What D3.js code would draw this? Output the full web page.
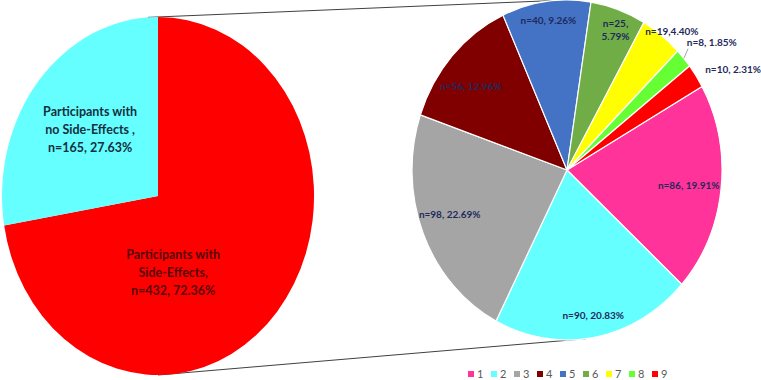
<!DOCTYPE html>
<html>
<head>
<meta charset="utf-8">
<style>
  body { margin: 0; background: #fff; }
  svg { display: block; font-family: Lato, "Open Sans", sans-serif; font-weight: bold; }
</style>
</head>
<body>
<svg id="chart" width="761" height="380"></svg>
<script src="https://cdn.jsdelivr.net/npm/d3@7"></script>
<script>
// main split
const mainNames = ["Participants with Side-Effects", "Participants with no Side-Effects"];
const mainValues = [432, 165];
const mainLabels = [
  ["Participants with", "Side-Effects,", "n=432, 72.36%"],
  ["Participants with", "no Side-Effects ,", "n=165, 27.63%"]
];

// breakdown of participants with side-effects
const subCategories = ["1", "2", "3", "4", "5", "6", "7", "8", "9"];
const subValues = [86, 90, 98, 56, 40, 25, 19, 8, 10];
const subLabels = [
  ["n=86, 19.91%"], ["n=90, 20.83%"], ["n=98, 22.69%"], ["n=56, 12.96%"],
  ["n=40, 9.26%"], ["n=25,", "5.79%"], ["n=19,4.40%"], ["n=8, 1.85%"], ["n=10, 2.31%"]
];

const mainColors = ["#ff0000", "#66ffff"];
const subColors = ["#ff3399", "#66ffff", "#a5a5a5", "#800000", "#4472c4",
                   "#70ad47", "#ffff00", "#66ff33", "#ff0000"];

const svg = d3.select("#chart");
const rad = Math.PI / 180;

// ellipse-shaped pies (stretched like the original)
const left = {cx: 158, cy: 196, rx: 156, ry: 179};
const right = {cx: 567, cy: 170, rx: 155, ry: 170};

function pt(p, angle, r) {
  return [p.cx + p.rx * r * Math.sin(angle), p.cy - p.ry * r * Math.cos(angle)];
}

const arc = d3.arc().innerRadius(0).outerRadius(1);

// connector lines
const lines = [
  [pt(left, -3.7 * rad, 1), pt(right, 0, 1)],
  [pt(left, 180 * rad, 1), pt(right, 173 * rad, 1)]
];
svg.selectAll("line.conn").data(lines).join("line")
  .attr("class", "conn")
  .attr("x1", d => d[0][0]).attr("y1", d => d[0][1])
  .attr("x2", d => d[1][0]).attr("y2", d => d[1][1])
  .attr("stroke", "#404040").attr("stroke-width", 1);

// left pie
const mainPie = d3.pie().sort(null)(mainValues);
const gl = svg.append("g")
  .attr("transform", `translate(${left.cx},${left.cy}) scale(${left.rx},${left.ry})`);
gl.selectAll("path").data(mainPie).join("path")
  .attr("d", arc)
  .attr("fill", (d, i) => mainColors[i]);

const mainLabelPos = [[0.44, 37], [0.57, 0]]; // radius factor, angle shift
const mainTextColors = ["#560808", "#123040"];
mainPie.forEach((d, i) => {
  const a = (d.startAngle + d.endAngle) / 2 + mainLabelPos[i][1] * rad;
  const [x, y] = pt(left, a, mainLabelPos[i][0]);
  const t = svg.append("text")
    .attr("x", x).attr("y", y)
    .attr("text-anchor", "middle")
    .attr("font-size", 12.5)
    .attr("fill", mainTextColors[i]);
  const n = mainLabels[i].length;
  mainLabels[i].forEach((s, j) => {
    t.append("tspan").attr("x", x)
      .attr("y", y + (j - (n - 1) / 2) * 18 + 4)
      .text(s);
  });
});

// right pie
const subPie = d3.pie().sort(null)
  .startAngle(60.6 * rad).endAngle(420.6 * rad)(subValues);
const gr = svg.append("g")
  .attr("transform", `translate(${right.cx},${right.cy}) scale(${right.rx},${right.ry})`);
gr.selectAll("path").data(subPie).join("path")
  .attr("d", arc)
  .attr("fill", (d, i) => subColors[i])
  .attr("stroke", "#fff")
  .attr("stroke-width", 1.2)
  .attr("vector-effect", "non-scaling-stroke");

// label placement: radius factor, angle shift (deg), anchor
const subLabelPos = [
  [0.79, 0, "middle"], [0.87, -1, "middle"], [0.8, 3, "middle"], [0.79, -4, "middle"],
  [0.89, 0, "middle"], [0.88, 1.5, "middle"], [1.06, 2, "middle"], [1.076, -3, "start"],
  [1.07, 0, "start"]
];

// leader line for the small slice 8
const s8 = subPie[7];
const l8a = pt(right, (s8.startAngle + s8.endAngle) / 2, 1.0);
const l8b = pt(right, (s8.startAngle + s8.endAngle) / 2 - 3 * rad, 1.06);
svg.append("line")
  .attr("x1", l8a[0]).attr("y1", l8a[1])
  .attr("x2", l8b[0] + 3).attr("y2", l8b[1] + 4)
  .attr("stroke", "#a6a6a6").attr("stroke-width", 1);

subPie.forEach((d, i) => {
  const [r, shift, anchor] = subLabelPos[i];
  const a = (d.startAngle + d.endAngle) / 2 + shift * rad;
  const [x, y] = pt(right, a, r);
  const t = svg.append("text")
    .attr("x", x).attr("y", y)
    .attr("text-anchor", anchor)
    .attr("font-size", 10)
    .attr("fill", "#1f2a5c");
  const n = subLabels[i].length;
  subLabels[i].forEach((s, j) => {
    t.append("tspan").attr("x", x)
      .attr("y", y + (j - (n - 1) / 2) * 13 + 3.5)
      .text(s);
  });
});

// legend
const legendX = d3.scaleBand().domain(subCategories).range([468, 675]);
const lg = svg.append("g").attr("transform", "translate(0,374)");
const items = lg.selectAll("g").data(subCategories).join("g")
  .attr("transform", d => `translate(${legendX(d)},0)`);
items.append("rect")
  .attr("x", 0).attr("y", -3).attr("width", 6).attr("height", 6)
  .attr("fill", (d, i) => subColors[i]);
items.append("text")
  .attr("x", 9).attr("y", 4)
  .attr("font-size", 11).attr("font-weight", "normal")
  .attr("fill", "#595959")
  .text(d => d);
</script>
</body>
</html>
